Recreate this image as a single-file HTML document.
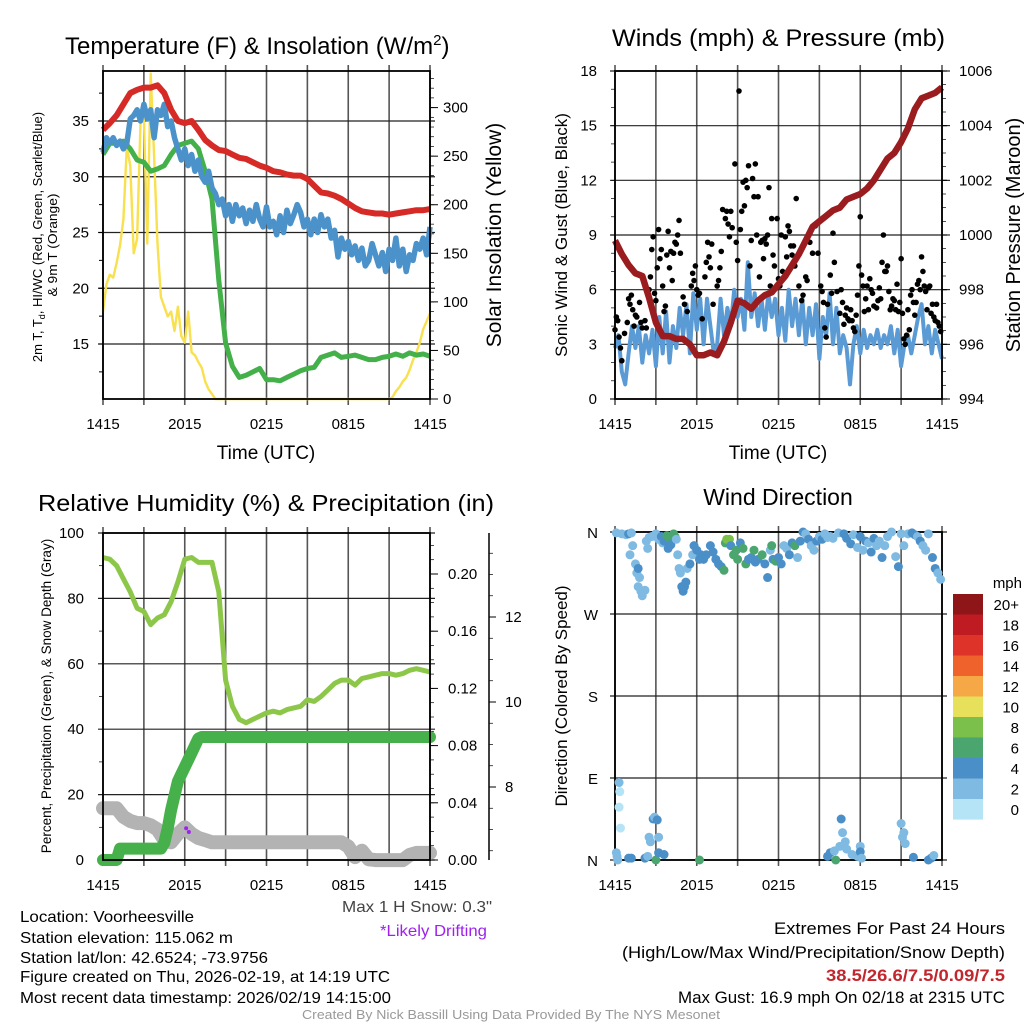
<!DOCTYPE html>
<html><head><meta charset="utf-8"><style>
html,body{margin:0;padding:0;background:#fff;}
svg{display:block;font-family:"Liberation Sans",sans-serif;}
</style></head><body>
<svg id="s" width="1024" height="1024" viewBox="0 0 1024 1024"></svg>
<script>
// ---- time ticks ----
const xTickLabels=["1415","2015","0215","0815","1415"];
// ---- panel 1: temperature ----
const tempRed=[34.2,34.8,35.5,36.5,37.5,37.8,38.0,38.0,38.2,37.5,36.0,35.0,34.8,35.0,34.2,33.3,32.8,32.4,32.3,32.0,31.7,31.6,31.3,31.0,30.8,30.5,30.4,30.2,30.1,30.1,29.8,29.2,28.6,28.5,28.3,28.0,27.6,27.2,26.9,26.8,26.7,26.7,26.6,26.7,26.8,26.9,27.0,27.0,27.1];
const dewGreen=[32,33,33,33.2,32.5,31.5,31.3,30.5,30.7,31.0,32,32.8,33.0,33.2,32.5,30.5,28,20.7,15.1,13,12,12.2,12.5,12.8,11.8,11.8,11.7,12,12.3,12.6,12.8,12.9,13.8,14.0,14.2,13.8,13.9,14.0,13.8,13.6,13.6,13.8,13.9,14.1,13.9,14.2,14.0,14.1,13.9];
const wcBlue=[32.2,33.5,33,33.5,32.8,33.2,32.5,33,35.2,35.5,36,35,36.5,35.2,36,33.5,36,35.5,36.5,34.5,35,33.5,32.5,31.5,32.5,31,32,30.5,31.5,30,29.5,30.5,29,28.5,27.5,28,26.5,27.5,26,27.5,26.5,27.2,25.8,27,26,27.5,26.2,25.5,27.3,25.5,26,24.8,26.5,25,27,25.8,26.6,27.5,26.8,25.5,26.2,24.8,26.2,25,26.6,25.5,26.2,24.5,25.2,22.8,24.5,23.5,24.2,23,23.8,22.5,23.6,22,22.5,24,23,22,23.2,21.5,23.5,22.5,24.5,22,23.5,21.5,23,22.5,24,23.5,24.5,23,25.5];
const solarYellow=[90,118,128,125,140,158,185,260,240,150,165,285,290,160,335,250,160,105,95,85,90,70,95,65,58,90,48,45,38,32,18,10,5,0,
0,0,0,0,0,0,0,0,0,0,0,0,0,0,0,0,0,0,0,0,0,0,0,0,0,0,0,0,0,0,0,0,0,0,0,0,0,0,0,0,0,0,0,0,0,0,0,0,0,0,0,
2,8,12,18,22,30,40,48,58,72,80,88];
const tempTicks=[15,20,25,30,35];
const solarTicks=[0,50,100,150,200,250,300];
// ---- panel 2: wind & pressure ----
const windBlue=[2.8,3.5,1.5,0.8,2.5,4,2.8,4,2,3.5,2.5,3.8,1.8,4.5,2.5,4.8,2,4,2.8,5,3.5,5.2,2.5,5.8,3.8,5.5,3,5.5,4,2.5,3,5.5,3.5,5,4,6,4.5,5.5,3.8,7.5,4.5,5.8,4,5.5,3.8,5.8,4.5,5.5,3.5,5,3.2,6,4,5.5,3.5,5.5,3,5,3.5,5.2,2.2,4.5,3.5,5.8,3,5,2.5,3.5,2.8,0.8,3,4,2.5,3.8,2.8,3.5,3,3.8,2.8,3.5,3,4,2.5,3.8,1.8,3,3.5,2.5,3.5,4.5,5.2,3,4,2.5,3.8,3,2.2];
const pressure=[999.8,999.3,998.9,998.6,998.5,997.7,996.8,996.3,996.3,996.2,996.2,996.0,995.6,995.6,995.7,995.6,996.1,996.8,997.6,997.5,997.3,997.6,997.8,997.9,998.2,998.5,998.9,999.3,999.8,1000.3,1000.5,1000.7,1000.9,1001.0,1001.3,1001.4,1001.5,1001.7,1002.0,1002.4,1002.8,1003.0,1003.4,1003.9,1004.6,1005.0,1005.1,1005.2,1005.4];
const gustT=[0,0.1,0.2,0.3,0.4,0.5,0.7,0.9,1.0,1.1,1.2,1.3,1.4,1.5,1.6,1.8,1.9,2.0,2.2,2.3,2.5,2.6,2.7,2.8,2.9,3.0,3.1,3.2,3.3,3.4,3.5,3.6,3.7,3.8,3.9,4.0,4.1,4.2,4.3,4.4,4.5,4.6,4.7,4.8,5.0,5.1,5.3,5.6,5.7,5.8,5.9,6.0,6.1,6.2,6.4,6.6,6.7,6.8,6.9,7.0,7.1,7.2,7.5,7.6,7.7,7.8,7.9,8.1,8.2,8.3,8.4,8.5,8.6,8.8,8.9,9.0,9.1,9.2,9.3,9.4,9.5,9.6,9.7,9.8,9.9,10.0,10.1,10.2,10.3,10.4,10.5,10.6,10.7,10.8,10.9,11.0,11.1,11.2,11.3,11.4,11.5,11.6,11.7,11.9,12.0,12.1,12.2,12.3,12.5,12.6,12.7,12.8,12.9,13.0,13.1,13.2,13.3,13.5,13.7,13.8,14.0,14.1,14.3,14.5,14.7,14.9,15.1,15.2,15.3,15.4,15.5,15.6,15.8,15.9,16.0,16.1,16.3,16.5,16.6,16.7,16.8,16.9,17.0,17.1,17.2,17.3,17.4,17.5,17.6,17.7,17.8,17.9,18.0,18.1,18.2,18.3,18.4,18.5,18.6,18.7,18.8,18.9,19.0,19.2,19.3,19.4,19.5,19.6,19.7,19.8,19.9,20.0,20.1,20.2,20.3,20.4,20.5,20.6,20.7,20.8,20.9,21.0,21.1,21.2,21.3,21.4,21.5,21.6,21.7,21.8,21.9,22.0,22.1,22.2,22.3,22.4,22.5,22.6,22.7,22.8,22.9,23.0,23.1,23.2,23.3,23.4,23.5,23.6,23.7,23.8,23.9];
const gustV=[3.8,4.5,4.3,3.4,2.8,2.1,3.6,4.2,5.5,5.2,5.7,4.9,4.0,4.6,4.5,5.3,4.2,3.9,4.3,3.9,6.0,6.7,8.2,8.9,5.8,5.4,7.2,9.3,7.7,8.2,6.2,4.8,5.1,7.9,9.2,7.2,8.1,6.5,8.0,8.6,8.5,9.0,9.8,8.0,5.6,5.2,4.8,6.2,6.9,6.5,7.3,6.0,5.7,5.8,4.4,6.7,7.5,8.6,7.8,7.2,8.5,5.2,6.2,6.5,7.2,8.1,10.4,9.9,10.3,9.6,8.9,10.3,9.4,12.9,8.6,7.6,16.9,9.3,10.3,11.9,10.6,12.0,11.6,12.8,7.3,8.7,12.1,11.1,12.9,9.0,11.1,6.7,8.6,8.7,7.7,8.8,8.5,9.0,11.6,6.2,9.9,7.9,7.3,9.9,6.6,6.2,9.0,7.0,8.9,7.8,9.5,9.2,8.4,7.9,8.4,7.3,11.0,6.2,5.4,5.7,6.7,6.5,8.6,8.0,9.5,8.0,6.2,5.9,5.3,3.9,3.4,5.2,6.8,5.8,9.1,7.5,5.9,4.7,6.0,5.3,4.1,4.6,5.0,4.4,4.3,4.9,4.3,3.9,3.7,4.6,5.7,7.3,10.0,6.8,6.2,4.8,5.5,6.2,4.9,6.6,6.0,5.8,5.1,5.0,5.4,6.1,5.5,7.5,9.0,7.0,7.0,7.3,5.9,4.9,5.1,5.5,5.4,4.9,6.3,4.8,5.3,7.7,4.7,3.3,3.0,3.5,4.9,3.8,5.7,6.0,5.3,4.6,5.3,6.3,6.5,6.0,7.8,7.0,6.2,5.9,4.9,6.1,6.2,4.7,5.2,4.5,4.3,5.2,4.2,4.0,3.7];
const windTicks=[0,3,6,9,12,15,18];
const presTicks=[994,996,998,1000,1002,1004,1006];
// ---- panel 3: RH, precip, snow ----
const rhGreen=[92.5,92,90,86,82,77,76,72,74,75,79,85,92,92.5,91,91,91,82,55,47,43,42,43,44,45,45.5,45,46,46.5,47,49,48.5,50,52,54,55,55,53.5,55.5,56,56.5,57,57,56.5,57,58,58.5,58,57.5];
const precipIn=[0,0,0,0,0,0.008,0.008,0.008,0.008,0.008,0.008,0.008,0.008,0.008,0.008,0.008,0.008,0.008,0.012,0.022,0.035,0.045,0.055,0.06,0.065,0.07,0.075,0.08,0.085,0.086,
0.086,0.086,0.086,0.086,0.086,0.086,0.086,0.086,0.086,0.086,0.086,0.086,0.086,0.086,0.086,0.086,0.086,0.086,0.086,0.086,0.086,0.086,0.086,0.086,0.086,0.086,0.086,0.086,0.086,0.086,0.086,0.086,0.086,0.086,0.086,0.086,0.086,0.086,0.086,0.086,0.086,0.086,0.086,0.086,0.086,0.086,0.086,0.086,0.086,0.086,0.086,0.086,0.086,0.086,0.086,0.086,0.086,0.086,0.086,0.086,0.086,0.086,0.086,0.086,0.086,0.086,0.086];
const snowIn=[7.5,7.5,7.5,7.3,7.2,7.15,7.15,7.1,7.0,6.75,6.7,6.9,7.05,6.9,6.8,6.75,6.7,6.7,6.7,6.7,6.7,6.7,6.7,6.7,6.7,6.7,6.7,6.7,6.7,6.7,6.7,6.7,6.7,6.7,6.7,6.7,6.6,6.35,6.5,6.3,6.28,6.28,6.28,6.28,6.28,6.4,6.45,6.45,6.45];
const driftT=[6.1,6.3];
const driftIn=[7.03,6.94];
const rhTicks=[0,20,40,60,80,100];
const precipTicks=["0.00","0.04","0.08","0.12","0.16","0.20"];
const snowTicks=[8,10,12];
// ---- panel 4: wind direction ----
const dirT=[0.1,0.5,0.8,1.0,1.2,1.1,1.3,1.5,1.6,1.7,1.8,1.9,2.0,2.2,1.7,2.3,2.4,2.5,2.7,2.9,3.0,3.2,3.4,3.5,3.6,3.8,3.9,4.0,4.1,4.3,4.4,4.5,4.6,4.7,4.8,4.9,5.0,5.1,5.2,5.3,5.5,5.7,5.8,6.0,6.2,6.3,6.5,6.7,7.0,7.2,7.4,7.6,7.8,8.0,8.1,8.2,8.4,8.5,8.7,8.9,9.0,9.2,9.4,9.6,9.8,10.0,10.2,10.3,10.5,10.8,11.0,11.2,11.4,11.5,11.6,11.8,12.0,12.2,12.4,12.6,12.8,13.0,13.2,13.4,13.6,13.8,14.0,14.2,14.4,14.6,14.8,15.0,15.2,15.4,15.6,15.8,16.0,16.4,16.8,17.0,17.3,17.5,17.8,18.0,18.2,18.4,18.6,18.8,19.0,19.2,19.4,19.6,19.8,20.0,20.3,20.6,20.8,21.0,21.2,21.5,21.8,22.0,22.2,22.4,22.6,22.8,23.0,23.3,23.5,23.7,23.9,
0.1,0.15,0.2,0.3,0.35,0.3,0.4,1.0,1.2,2.2,2.4,2.5,2.6,2.8,2.9,3.1,3.2,3.0,3.2,3.6,6.2,15.6,15.8,16.1,16.2,16.5,16.6,16.7,16.9,17.0,17.4,17.8,18.0,18.0,18.1,21.0,21.1,21.2,21.3,21.9,23.0,23.2,23.4];
const dirDeg=[359,358,357,358,359,335,345,325,315,300,310,295,290,296,320,350,342,354,355,356,358,352,355,348,350,356,342,353,346,358,355,352,335,320,315,300,295,300,305,320,325,335,345,340,330,335,330,335,345,338,330,325,322,318,348,352,352,345,335,340,330,348,342,325,330,332,340,327,330,335,325,310,340,345,330,328,332,325,345,342,335,348,345,332,350,360,358,352,345,340,350,355,352,358,354,355,353,359,358,353,347,357,343,355,340,350,348,338,353,345,350,332,345,355,360,333,322,358,345,358,359,357,355,350,345,340,358,332,320,315,308,
8,4,0,85,75,58,35,2,2,2,4,25,20,45,47,44,25,0,8,6,0,4,8,10,0,15,45,30,20,12,6,4,15,9,2,40,25,30,18,3,0,2,5];
const dirSpd=[3,3,3.5,4,3,3,3,2.5,3,2.5,3,2.5,2.5,2.5,4,3,3,3,3,3.5,3,3.5,4.5,3,4.5,6,4.5,7,4.5,7,7,3,3,3,3,4.5,4.5,4.5,4.5,3,4.5,3,4.5,4.5,4.5,4.5,4,4.5,4.5,4.5,4.5,4.5,4.5,7,7,8,8,4.5,6,7,6,4.5,6,6,4.5,4.5,7,4.5,4.5,7,4.5,4.5,3,7,4.5,6,4.5,4.5,3,3,4.5,4.5,7,3,4.5,4.5,3,4.5,3,3,4.5,3,4.5,3,2,3,3,3,4.5,4.5,4.5,3,3,4.5,3,4.5,3,4.5,4.5,3,3,4.5,3,3,3,3,4.5,3,3,3,4.5,4.5,3,4.5,3,3,3,4.5,4.5,3,3,
3,3,3,2.5,1,1,1,4.5,4.5,4.5,3,3,3,4.5,3,4.5,3,7,4.5,4.5,7,4.5,4.5,3,7,3,4.5,3,3,3,3,3,3,4.5,3,3,3,3,3,4.5,4.5,4.5,3];
const dirLabels=["N","E","S","W","N"];
const cbLabels=["20+","18","16","14","12","10","8","6","4","2","0"];
const cbColors=["#8e1518","#bf1b22","#dd3328","#ef622b","#f5a845","#e7e05a","#7bc04a","#4aa56f","#4a8fc7","#7fbae3","#b5e4f7"];

const NS="http://www.w3.org/2000/svg";
const S=document.getElementById('s');
function mk(tag,attrs,parent,text){const e=document.createElementNS(NS,tag);for(const k in attrs)e.setAttribute(k,attrs[k]);if(text!==undefined)e.textContent=text;(parent||S).appendChild(e);return e;}
function pts(arr,xf,yf,tf){return arr.map((v,i)=>xf(tf?tf[i]:i/(arr.length-1)*24).toFixed(1)+","+yf(v).toFixed(1)).join(" ");}

const L1=103,R1=430,L2=615,R2=942,T1=71,B1=399,T2=533,B2=860;
function xs(L,R){return t=>L+t/24*(R-L);}
function lin(d0,d1,p0,p1){return v=>p0+(v-d0)/(d1-d0)*(p1-p0);}

function frame(L,R,T,B,name){
  const g=mk('g',{},S);
  
  
  const x=xs(L,R);
  for(let i=0;i<=8;i++){mk('line',{x1:x(i*3),x2:x(i*3),y1:T-6,y2:B+6,stroke:'#555','stroke-width':1.6},g);}
  xTickLabels.forEach((l,i)=>{const tx=mk('text',{x:x(i*6),y:B+30,'font-size':15,'text-anchor':'middle'},g,l);
    
    });
  return g;
}
function box(L,R,T,B,g){mk('rect',{x:L,y:T,width:R-L,height:B-T,fill:'none',stroke:'#000','stroke-width':1.8},g);}
function hgrid(L,R,y,g){mk('line',{x1:L-5,x2:R+5,y1:y,y2:y,stroke:'#222','stroke-width':1.2},g);}
function txt(x,y,s,size,anchor,g,extra){const e=mk('text',Object.assign({x:x,y:y,'font-size':size,'text-anchor':anchor||'start'},extra||{}),g||S,s);return e;}
function fit(w){return {textLength:w,lengthAdjust:'spacingAndGlyphs'};}

// ===== Panel 1 =====
{
 const g=frame(L1,R1,T1,B1,'temperature-panel');
 const x=xs(L1,R1), yT=lin(15,35,344,121), yS=lin(0,300,399,107.6);
 tempTicks.forEach(v=>{hgrid(L1,R1,yT(v),g);txt(89,yT(v)+5,String(v),15,'end',g);});
 for(let v=12.5;v<40;v+=2.5){mk('line',{x1:L1-4,x2:L1,y1:yT(v),y2:yT(v),stroke:'#000'},g);}
 solarTicks.forEach(v=>{mk('line',{x1:R1,x2:R1+8,y1:yS(v),y2:yS(v),stroke:'#000'},g);txt(443,yS(v)+5,String(v),15,'start',g);});
 for(let v=10;v<340;v+=10){mk('line',{x1:R1,x2:R1+4,y1:yS(v),y2:yS(v),stroke:'#000','stroke-width':0.7},g);}
 const ys=mk('polyline',{points:pts(solarYellow,x,yS),fill:'none',stroke:'#f8e04e','stroke-width':2.4,'stroke-linejoin':'round'},g);
 
 const dg=mk('polyline',{points:pts(dewGreen,x,yT),fill:'none',stroke:'#43b04a','stroke-width':5,'stroke-linejoin':'round'},g);
 
 const bl=mk('polyline',{points:pts(wcBlue,x,yT),fill:'none',stroke:'#4b92cb','stroke-width':5.5,'stroke-linejoin':'round'},g);
 
 const rd=mk('polyline',{points:pts(tempRed,x,yT),fill:'none',stroke:'#d52a26','stroke-width':6,'stroke-linejoin':'round'},g);
 
 box(L1,R1,T1,B1,g);
 const t=txt(65,54,'Temperature (F) & Insolation (W/m',24,'start',g);mk('tspan',{dy:-9,'font-size':15},t,'2');mk('tspan',{dy:9},t,')');
 
 const a=txt(0,0,'',13,'middle',g,{transform:'translate(42,237) rotate(-90)'});
 a.innerHTML='2m T, T<tspan font-size="9" dy="3">d</tspan><tspan dy="-3">, HI/WC (Red, Green, Scarlet/Blue)</tspan>';
 
 txt(0,0,'& 9m T (Orange)',13,'middle',g,Object.assign({transform:'translate(57,245) rotate(-90)'},fit(103)));
 const s2=txt(0,0,'Solar Insolation (Yellow)',21,'middle',g,{transform:'translate(501,235) rotate(-90)'});
 
 const tx=txt(266,459,'Time (UTC)',19,'middle',g);
}
// ===== Panel 2 =====
{
 const g=frame(L2,R2,T1,B1,'wind-pressure-panel');
 const x=xs(L2,R2), yW=lin(0,18,399,71), yP=lin(994,1006,399,71);
 windTicks.forEach(v=>{hgrid(L2,R2,yW(v),g);txt(597,yW(v)+5,String(v),15,'end',g);});
 presTicks.forEach(v=>{mk('line',{x1:R2,x2:R2+8,y1:yP(v),y2:yP(v),stroke:'#000'},g);txt(959,yP(v)+5,String(v),15,'start',g);});
 for(let v=994.5;v<1006;v+=0.5){mk('line',{x1:R2,x2:R2+4,y1:yP(v),y2:yP(v),stroke:'#000','stroke-width':0.7},g);}
 for(let v=1;v<18;v++){mk('line',{x1:L2-4,x2:L2,y1:yW(v),y2:yW(v),stroke:'#000','stroke-width':0.7},g);}
 const wb=mk('polyline',{points:pts(windBlue,x,yW),fill:'none',stroke:'#5b9bd5','stroke-width':4,'stroke-linejoin':'round'},g);
 
 gustT.forEach((t,i)=>{const c=mk('circle',{cx:x(t),cy:yW(gustV[i]),r:2.8,fill:'#000'},g);
   });
 const pr=mk('polyline',{points:pts(pressure,x,yP),fill:'none',stroke:'#9b1c1f','stroke-width':6.5,'stroke-linejoin':'round'},g);
 
 box(L2,R2,T1,B1,g);
 const t=txt(612,46,'Winds (mph) & Pressure (mb)',24,'start',g,fit(333));
 txt(0,0,'Sonic Wind & Gust (Blue, Black)',17,'middle',g,{transform:'translate(567,235) rotate(-90)'});
 txt(0,0,'Station Pressure (Maroon)',20,'middle',g,{transform:'translate(1020,235) rotate(-90)'});
 txt(778,459,'Time (UTC)',19,'middle',g);
}
// ===== Panel 3 =====
{
 const g=frame(L1,R1,T2,B2,'humidity-precip-panel');
 const x=xs(L1,R1), yR=lin(0,100,860,533), yPr=lin(0,0.2,860,574), ySn=lin(8,12,787,617);
 rhTicks.forEach(v=>{hgrid(L1,R1,yR(v),g);txt(84,yR(v)+5,String(v),15,'end',g);});
 for(let v=10;v<100;v+=20){mk('line',{x1:L1-4,x2:L1,y1:yR(v),y2:yR(v),stroke:'#000','stroke-width':0.7},g);}
 precipTicks.forEach(v=>{const yy=yPr(parseFloat(v));mk('line',{x1:R1,x2:R1+8,y1:yy,y2:yy,stroke:'#000'},g);txt(448,yy+5,v,15,'start',g);});
 for(let v=0.01;v<0.23;v+=0.01){mk('line',{x1:R1,x2:R1+4,y1:yPr(v),y2:yPr(v),stroke:'#000','stroke-width':0.7},g);}
 mk('line',{x1:489,x2:489,y1:533,y2:860,stroke:'#000','stroke-width':1.5},g);
 snowTicks.forEach(v=>{mk('line',{x1:489,x2:496,y1:ySn(v),y2:ySn(v),stroke:'#000'},g);txt(505,ySn(v)+5,String(v),15,'start',g);});
 for(let v=6.5;v<14;v+=0.5){mk('line',{x1:489,x2:493,y1:ySn(v),y2:ySn(v),stroke:'#000','stroke-width':0.7},g);}
 const sn=mk('polyline',{points:pts(snowIn,x,ySn),fill:'none',stroke:'#b3b3b3','stroke-width':14,'stroke-linejoin':'round','stroke-linecap':'round'},g);
 
 const pc=mk('polyline',{points:pts(precipIn,x,yPr),fill:'none',stroke:'#46b04a','stroke-width':12,'stroke-linejoin':'round','stroke-linecap':'round'},g);
 
 driftT.forEach((t,i)=>{const c=mk('circle',{cx:x(t),cy:ySn(driftIn[i]),r:2,fill:'#a020f0'},g);
   });
 const rh=mk('polyline',{points:pts(rhGreen,x,yR),fill:'none',stroke:'#8dc74a','stroke-width':5,'stroke-linejoin':'round'},g);
 
 box(L1,R1,T2,B2,g);
 const t=txt(38,511,'Relative Humidity (%) & Precipitation (in)',23,'start',g,fit(456));
 txt(0,0,'Percent, Precipitation (Green), & Snow Depth (Gray)',13.5,'middle',g,{transform:'translate(51,696) rotate(-90)'});
}
// ===== Panel 4 =====
{
 const g=frame(L2,R2,T2-1,B2,'wind-direction-panel');
 const x=xs(L2,R2), yD=lin(0,360,860,532);
 dirLabels.forEach((l,i)=>{const yy=yD(i*90);hgrid(L2,R2,yy,g);txt(598,yy+6,l,15,'end',g);});
 box(L2,R2,532,B2,g);
 dirT.forEach((t,i)=>{const bin=Math.min(10,Math.floor(dirSpd[i]/2));
   const c=mk('circle',{cx:x(t),cy:yD(dirDeg[i]),r:4.5,fill:cbColors[10-bin]},g);
   });
 const t=txt(778,505,'Wind Direction',23,'middle',g);
 txt(0,0,'Direction (Colored By Speed)',17,'middle',g,{transform:'translate(567,696) rotate(-90)'});
 const cb=mk('g',{},g);
 cbColors.forEach((c,i)=>{mk('rect',{x:953,y:594+i*20.5,width:30,height:20.6,fill:c},cb);
   txt(1019,594+i*20.5+16,cbLabels[i],15,'end',cb);});
 txt(1022,588,'mph',15,'end',cb);
}
// ===== Footer text =====
{
 const g=mk('g',{},S);
 const lines=["Location: Voorheesville","Station elevation: 115.062 m","Station lat/lon: 42.6524; -73.9756","Figure created on Thu, 2026-02-19, at 14:19 UTC","Most recent data timestamp: 2026/02/19 14:15:00"];
 const widths=[174,213,248,370,371];
 const ys=[922,943,963,982,1003];
 lines.forEach((s,i)=>txt(20,ys[i],s,16,'start',g,fit(widths[i])));
 const m=txt(342,912,'Max 1 H Snow: 0.3"',16,'start',S,Object.assign({fill:'#444'},fit(150)));
 const d=txt(380,936,'*Likely Drifting',16,'start',S,Object.assign({fill:'#a020f0'},fit(107)));
 const e=mk('g',{},S);
 txt(774,934,'Extremes For Past 24 Hours',16.5,'start',e,fit(231));
 txt(622,958,'(High/Low/Max Wind/Precipitation/Snow Depth)',16.5,'start',e,fit(383));
 txt(826,981,'38.5/26.6/7.5/0.09/7.5',16.5,'start',e,Object.assign({fill:'#c1272d','font-weight':'bold'},fit(179)));
 txt(678,1003,'Max Gust: 16.9 mph On 02/18 at 2315 UTC',16.5,'start',e,fit(327));
 const c=txt(302,1019,'Created By Nick Bassill Using Data Provided By The NYS Mesonet',13,'start',S,Object.assign({fill:'#999'},fit(418)));
 
}
</script>
</body></html>
